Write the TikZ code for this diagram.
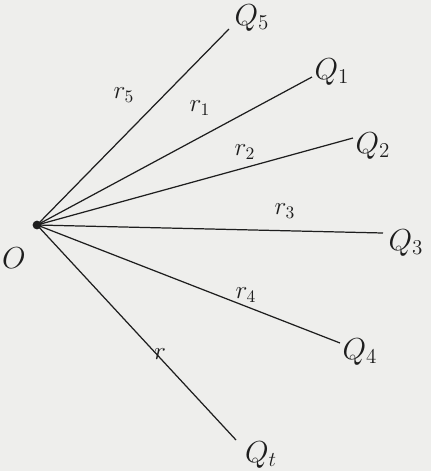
\documentclass[tikz,border=0pt]{standalone}
\usepackage{amsmath,amssymb}
\usetikzlibrary{calc}
\definecolor{mink}{HTML}{1E1E1E}
\definecolor{mpaper}{HTML}{EEEEEC}
\tikzset{
  ray/.style={line width=0.7pt, mink},
  endlbl/.style={font=\LARGE, text=mink, inner sep=1pt},
  raylbl/.style={font=\Large, text=mink, inner sep=1pt},
}
\begin{document}
\begin{tikzpicture}[x=0.02cm, y=-0.02cm]
  %% Hintergrund (431 x 471)
  \fill[mpaper] (0,0) rectangle (431,471);
  \useasboundingbox (0,0) rectangle (431,471);

  %% Ursprung
  \node[circle, fill=mink, inner sep=0pt, minimum size=5pt] (o) at (37,225) {};
  \node[endlbl] (olbl) at (14,258) {$O$};

  %% Endpunkte
  \coordinate (e5) at (229,29);
  \coordinate (e1) at (312,77);
  \coordinate (e2) at (353,138);
  \coordinate (e3) at (383,233);
  \coordinate (e4) at (340,343);
  \coordinate (et) at (236,440);

  \node[endlbl] (q5) at (252,18) {$Q_5$};
  \node[endlbl] (q1) at (332,72) {$Q_1$};
  \node[endlbl] (q2) at (373,146) {$Q_2$};
  \node[endlbl] (q3) at (406,243) {$Q_3$};
  \node[endlbl] (q4) at (360,352) {$Q_4$};
  \node[endlbl] (qt) at (261,455) {$Q_t$};

  %% Strahlen
  \draw[ray] (o.center) -- (e5);
  \draw[ray] (o.center) -- (e1);
  \draw[ray] (o.center) -- (e2);
  \draw[ray] (o.center) -- (e3);
  \draw[ray] (o.center) -- (e4);
  \draw[ray] (o.center) -- (et);

  %% Abstaende
  \node[raylbl] (r5) at (124,95) {$r_5$};
  \node[raylbl] (r1) at (200,108) {$r_1$};
  \node[raylbl] (r2) at (245,152) {$r_2$};
  \node[raylbl] (r3) at (285,211) {$r_3$};
  \node[raylbl] (r4) at (246,295) {$r_4$};
  \node[raylbl] (r) at (160,354) {$r$};
\end{tikzpicture}
\end{document}
